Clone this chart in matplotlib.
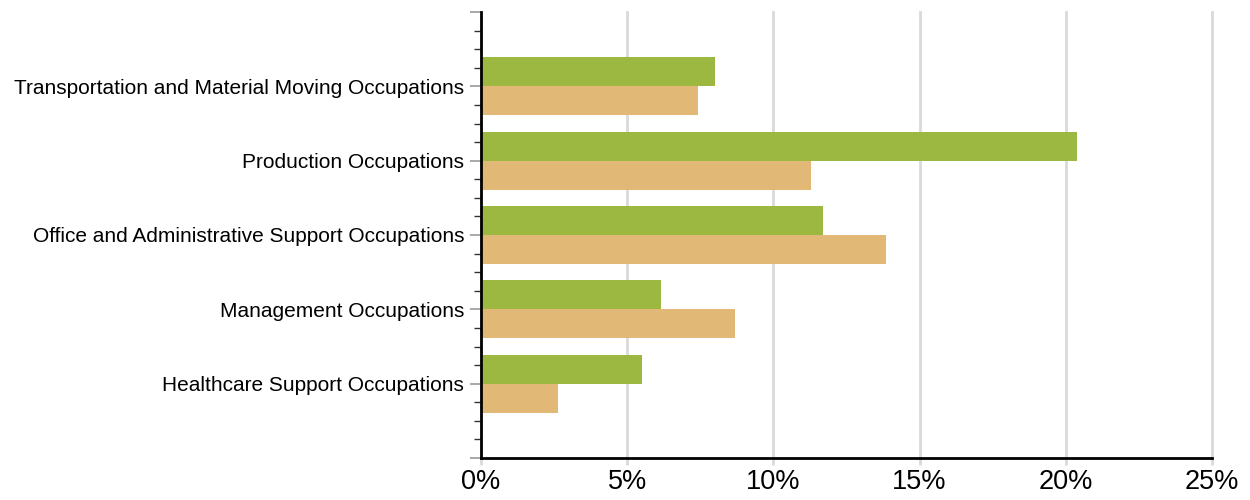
import numpy as np
import matplotlib.pyplot as plt
from matplotlib.ticker import MultipleLocator, FixedLocator

plt.rcParams['font.family'] = ['Liberation Sans', 'DejaVu Sans']

categories = ['Healthcare Support Occupations', 'Management Occupations',
              'Office and Administrative Support Occupations', 'Production Occupations',
              'Transportation and Material Moving Occupations']
green_vals = [5.5, 6.15, 11.7, 20.37, 8.0]
tan_vals = [2.63, 8.7, 13.85, 11.3, 7.42]
x_ticks = [0, 5, 10, 15, 20, 25]

fig = plt.figure(figsize=(12.5, 5), dpi=100)
ax = fig.add_axes([0.3848, 0.084, 0.5848, 0.892])

y = np.arange(len(categories))
h = 0.39
ax.barh(y + h / 2, green_vals, height=h, color='#9CB841', zorder=3)
ax.barh(y - h / 2, tan_vals, height=h, color='#E2B877', zorder=3)

ax.set_xlim(0, 25)
ax.set_ylim(-1, 5)
ax.set_xticks(x_ticks)
ax.set_xticklabels([f'{t}%' for t in x_ticks], fontsize=19.5)
ax.grid(axis='x', color='#d9d9d9', linewidth=2, zorder=0)
for gl in ax.get_xgridlines():
    gl.set_clip_on(False)

ax.yaxis.set_major_locator(FixedLocator(list(range(-1, 6))))
ax.set_yticklabels([''] + categories + [''], fontsize=15)
ax.yaxis.set_minor_locator(MultipleLocator(0.25))
ax.tick_params(axis='y', which='major', length=8, width=1.2, color='#999999', pad=4)
ax.tick_params(axis='y', which='minor', length=5, width=1, color='#333333')
ax.tick_params(axis='x', length=5, width=2, color='#d9d9d9', pad=3)

for s in ['top', 'right']:
    ax.spines[s].set_visible(False)
ax.spines['left'].set_linewidth(2)
ax.spines['bottom'].set_linewidth(2)
ax.spines['left'].set_zorder(4)
ax.spines['bottom'].set_zorder(4)

fig.savefig('out.png', dpi=100)
